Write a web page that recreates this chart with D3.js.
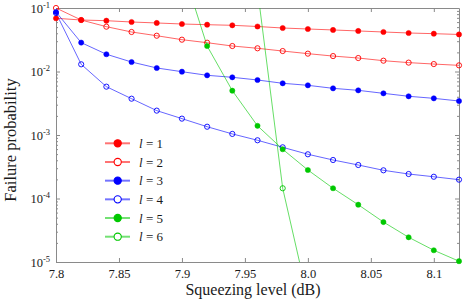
<!DOCTYPE html>
<html>
<head>
<meta charset="utf-8">
<script src="https://cdn.jsdelivr.net/npm/d3@7/dist/d3.min.js"></script>
<style>
  html, body { margin: 0; padding: 0; background: #fff; }
</style>
</head>
<body>
<svg id="chart" width="471" height="301"></svg>
<script>
// ---------- data ----------
const squeezing = [7.80, 7.82, 7.84, 7.86, 7.88, 7.90, 7.92, 7.94, 7.96, 7.98, 8.00, 8.02, 8.04, 8.06, 8.08, 8.10, 8.12];
const squeezingL5 = [7.90, 7.92, 7.94, 7.96, 7.98, 8.00, 8.02, 8.04, 8.06, 8.08, 8.10, 8.12];
const squeezingL6 = [7.96, 7.98, 8.00];

const failL1 = [0.0689, 0.0647, 0.0631, 0.0602, 0.0581, 0.0560, 0.0546, 0.0534, 0.0511, 0.0484, 0.0467, 0.0451, 0.0435, 0.0419, 0.0404, 0.0394, 0.0383];
const failL2 = [0.100, 0.0647, 0.0508, 0.0419, 0.0366, 0.0317, 0.0284, 0.0252, 0.0232, 0.0210, 0.0191, 0.0175, 0.0163, 0.0148, 0.0138, 0.0131, 0.0125];
const failL3 = [0.0865, 0.0285, 0.0187, 0.0141, 0.01136, 0.00993, 0.00871, 0.00810, 0.00735, 0.00652, 0.00606, 0.00543, 0.00505, 0.00453, 0.00407, 0.00378, 0.00343];
const failL4 = [0.0834, 0.01298, 0.00577, 0.00373, 0.00242, 0.00181, 0.00135, 0.00104, 0.000826, 0.000640, 0.000497, 0.000404, 0.000337, 0.000278, 0.000243, 0.000220, 0.000198];
const failL5 = [0.444, 0.0252, 0.00499, 0.001396, 0.000596, 0.000281, 0.000145, 0.0000798, 0.0000426, 0.0000245, 0.0000153, 0.0000103];
const failL6 = [0.196, 0.000145, 0.00000267];

const seriesNames = ["1", "2", "3", "4", "5", "6"];
const xTickValues = [7.80, 7.85, 7.90, 7.95, 8.00, 8.05, 8.10];
const xTickLabels = ["7.8", "7.85", "7.9", "7.95", "8.0", "8.05", "8.1"];
const yTickValues = [1e-5, 1e-4, 1e-3, 1e-2, 1e-1];
const yTickExponents = ["-5", "-4", "-3", "-2", "-1"];
const xTitle = "Squeezing level (dB)";
const yTitle = "Failure probability";

// ---------- styling ----------
const series = [
  { name: seriesNames[0], xs: squeezing,   ys: failL1, color: "#ff0000", filled: true },
  { name: seriesNames[1], xs: squeezing,   ys: failL2, color: "#ff0000", filled: false },
  { name: seriesNames[2], xs: squeezing,   ys: failL3, color: "#0000ff", filled: true },
  { name: seriesNames[3], xs: squeezing,   ys: failL4, color: "#0000ff", filled: false },
  { name: seriesNames[4], xs: squeezingL5, ys: failL5, color: "#00c800", filled: true },
  { name: seriesNames[5], xs: squeezingL6, ys: failL6, color: "#00c800", filled: false }
];

const FONT = "'Liberation Serif', 'Times New Roman', serif";
const W = 471, H = 301;
const m = { left: 56, top: 8, right: 12, bottom: 39 };
const x0 = m.left, x1 = W - m.right, y0 = m.top, y1 = H - m.bottom;
const axisColor = "#8a8a8a";
const textColor = "#1a1a1a";

const svg = d3.select("#chart");

const x = d3.scaleLinear().domain([7.8, 8.12]).range([x0, x1]);
const y = d3.scaleLog().domain([1e-5, 1e-1]).range([y1, y0]);

// clip paths
const defs = svg.append("defs");
defs.append("clipPath").attr("id", "plotClip")
  .append("rect").attr("x", x0).attr("y", y0).attr("width", x1 - x0).attr("height", y1 - y0);
defs.append("clipPath").attr("id", "markClip")
  .append("rect").attr("x", x0 - 5).attr("y", y0 - 5).attr("width", x1 - x0 + 10).attr("height", y1 - y0 + 10);

// minor log ticks
const minorTicks = [];
for (let e = -5; e < -1; e++) for (let k = 2; k <= 9; k++) minorTicks.push(k * Math.pow(10, e));

function styleAxis(g) {
  g.attr("font-family", FONT);
  g.selectAll(".domain").attr("stroke", axisColor).attr("stroke-width", 1);
  g.selectAll(".tick line").attr("stroke", axisColor).attr("stroke-width", 1);
  g.selectAll(".tick text").attr("fill", textColor).attr("font-family", FONT);
}

// bottom axis
const gx = svg.append("g").attr("transform", `translate(0,${y1})`)
  .call(d3.axisBottom(x).tickValues(xTickValues)
    .tickFormat((d, i) => xTickLabels[i]).tickSize(-4).tickSizeOuter(0).tickPadding(7))
  .attr("font-size", 12.5);
styleAxis(gx);

// top axis
const gxt = svg.append("g").attr("transform", `translate(0,${y0})`)
  .call(d3.axisTop(x).tickValues(xTickValues).tickFormat("").tickSize(-4).tickSizeOuter(0));
styleAxis(gxt);

// left axis
const gy = svg.append("g").attr("transform", `translate(${x0},0)`)
  .call(d3.axisLeft(y).tickValues(yTickValues).tickFormat(() => "").tickSize(-4).tickSizeOuter(0).tickPadding(6))
  .attr("font-size", 12.5);
styleAxis(gy);
gy.selectAll(".tick text").each(function (d, i) {
  const t = d3.select(this);
  t.text(null).attr("dy", "0.32em");
  t.append("tspan").text("10");
  t.append("tspan").attr("font-size", 8.5).attr("dy", "-0.55em").text(yTickExponents[i]);
});
const gyMinor = svg.append("g").attr("transform", `translate(${x0},0)`)
  .call(d3.axisLeft(y).tickValues(minorTicks).tickFormat("").tickSize(-2).tickSizeOuter(0));
styleAxis(gyMinor);
gyMinor.select(".domain").remove();

// right axis
const gyr = svg.append("g").attr("transform", `translate(${x1},0)`)
  .call(d3.axisRight(y).tickValues(yTickValues).tickFormat("").tickSize(-4).tickSizeOuter(0));
styleAxis(gyr);
const gyrMinor = svg.append("g").attr("transform", `translate(${x1},0)`)
  .call(d3.axisRight(y).tickValues(minorTicks).tickFormat("").tickSize(-2).tickSizeOuter(0));
styleAxis(gyrMinor);
gyrMinor.select(".domain").remove();

// lines
const line = d3.line().x(d => x(d[0])).y(d => y(d[1]));
const linesG = svg.append("g").attr("clip-path", "url(#plotClip)");
const marksG = svg.append("g").attr("clip-path", "url(#markClip)");

series.forEach(s => {
  const pts = s.xs.map((v, i) => [v, s.ys[i]]);
  linesG.append("path").datum(pts)
    .attr("d", line)
    .attr("fill", "none")
    .attr("stroke", s.color)
    .attr("stroke-opacity", 0.6)
    .attr("stroke-width", 1);
});
series.forEach(s => {
  const pts = s.xs.map((v, i) => [v, s.ys[i]]);
  marksG.selectAll(null).data(pts).enter().append("circle")
    .attr("cx", d => x(d[0]))
    .attr("cy", d => y(d[1]))
    .attr("r", 2.6)
    .attr("fill", s.filled ? s.color : "none")
    .attr("stroke", s.color)
    .attr("stroke-width", s.filled ? 0.5 : 0.9);
});

// legend
const legY = d3.scalePoint().domain(seriesNames).range([143.3, 236.7]);
const leg = svg.append("g");
series.forEach(s => {
  const gy0 = legY(s.name);
  const g = leg.append("g").attr("transform", `translate(0,${gy0})`);
  g.append("line").attr("x1", 105).attr("x2", 130).attr("y1", 0).attr("y2", 0)
    .attr("stroke", s.color).attr("stroke-opacity", 0.55).attr("stroke-width", 2);
  g.append("circle").attr("cx", 117.7).attr("cy", 0).attr("r", 3.6)
    .attr("fill", s.filled ? s.color : "#fff")
    .attr("stroke", s.color).attr("stroke-width", 1.1);
  const t = g.append("text").attr("x", 139).attr("y", 0).attr("dy", "0.35em")
    .attr("font-family", FONT).attr("font-size", 13).attr("fill", textColor);
  t.append("tspan").attr("font-style", "italic").text("l");
  t.append("tspan").text(" = " + s.name);
});

// titles
svg.append("text").attr("x", 253).attr("y", 295)
  .attr("text-anchor", "middle").attr("font-family", FONT).attr("font-size", 16).attr("fill", textColor)
  .text(xTitle);
svg.append("text").attr("transform", `translate(16,140) rotate(-90)`)
  .attr("text-anchor", "middle").attr("font-family", FONT).attr("font-size", 16.5).attr("fill", textColor)
  .text(yTitle);
</script>
</body>
</html>
